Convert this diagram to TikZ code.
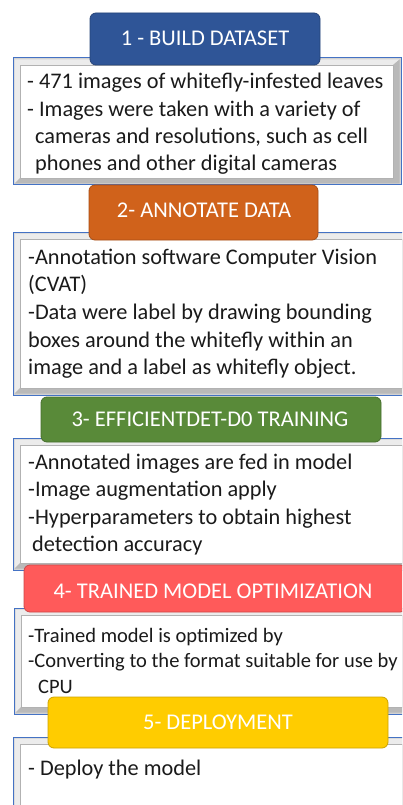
\documentclass[tikz,border=0pt]{standalone}
\usepackage{fontspec}
\setmainfont{Carlito}
\definecolor{hblue}{HTML}{2F5597}
\definecolor{horange}{HTML}{D0621B}
\definecolor{hgreen}{HTML}{598A39}
\definecolor{hred}{HTML}{FF5A5A}
\definecolor{hyellow}{HTML}{FFCC00}
\definecolor{bblue}{HTML}{4472C4}
\definecolor{txt}{HTML}{1A1A1A}
\tikzset{
  hdr/.style={draw=#1!80!black, fill=#1, rounded corners=6pt, line width=0.8pt},
  hdrtext/.style={text=white, font=\fontsize{22.5}{24}\selectfont, inner sep=0pt},
  bodytext/.style={text=txt, inner sep=0pt, anchor=base west},
}
\newcommand{\bodybox}[4]{%
  \fill[gray!35] (#1,#2) rectangle (#3,#4);
  \draw[bblue, line width=1pt] (#1,#2) rectangle (#3,#4);
  \fill[gray!15] (#1+1.5,#2+1.5) -- (#3-1.5,#2+1.5) -- (#3-8,#2+7) -- (#1+7,#2+7) -- (#1+7,#4-7) -- (#1+1.5,#4-1.5) -- cycle;
  \fill[gray!55] (#3-1.5,#2+1.5) -- (#3-1.5,#4-1.5) -- (#1+1.5,#4-1.5) -- (#1+7,#4-7) -- (#3-8,#4-7) -- (#3-8,#2+7) -- cycle;
  \draw[gray!60, fill=white, line width=0.6pt] (#1+7,#2+7) rectangle (#3-8,#4-7);
}
\begin{document}
\begin{tikzpicture}[x=1pt,y=-1pt]
\useasboundingbox (0,0) rectangle (402,805);
\fill[white] (0,0) rectangle (402,805);
\begin{scope}
\clip (0,0) rectangle (402,805);
% ---- 1
\bodybox{13}{58}{401}{185}
\node[bodytext] (t1) at (27,89) {\parbox[t]{390pt}{\fontsize{22.3}{27.3}\selectfont
- 471 images of whitefly-infested leaves\\
- Images were taken with a variety of\\
\hspace*{3pt} cameras and resolutions, such as cell\\
\hspace*{3pt} phones and other digital cameras}};
\draw[hdr=hblue] (90,13) rectangle (320,65);
\node[hdrtext] (h1) at (205,38) {1 - BUILD DATASET};
% ---- 2
\bodybox{13}{232}{410}{395}
\node[bodytext] (t2) at (28,264) {\parbox[t]{390pt}{\fontsize{22.3}{27.7}\selectfont
-Annotation software Computer Vision\\
(CVAT)\\
-Data were label by drawing bounding\\
boxes around the whitefly within an\\
image and a label as whitefly object.}};
\draw[hdr=horange] (89,185) rectangle (318,240);
\node[hdrtext] (h2) at (204,210) {2- ANNOTATE DATA};
% ---- 3
\bodybox{13}{438}{410}{570}
\node[bodytext] (t3) at (28,469) {\parbox[t]{390pt}{\fontsize{22.3}{27.6}\selectfont
-Annotated images are fed in model\\
-Image augmentation apply\\
-Hyperparameters to obtain highest\\
\hspace*{4pt}detection accuracy}};
\draw[hdr=hgreen] (41,397) rectangle (381,442);
\node[hdrtext] (h3) at (210,419) {3- EFFICIENTDET-D0 TRAINING};
% ---- 4
\bodybox{14}{608}{410}{714}
\node[bodytext] (t4) at (28,642) {\parbox[t]{390pt}{\fontsize{20.5}{25.5}\selectfont
-Trained model is optimized by\\
-Converting to the format suitable for use by\\
\hspace*{10pt}CPU}};
\draw[hdr=hred] (24,565) rectangle (406,612);
\node[hdrtext] (h4) at (213,591) {4- TRAINED MODEL OPTIMIZATION};
% ---- 5
\bodybox{13}{737}{410}{820}
\node[bodytext] (t5) at (28,775) {\fontsize{22.3}{24}\selectfont - Deploy the model};
\draw[hdr=hyellow] (48,697) rectangle (388,748);
\node[hdrtext] (h5) at (218,722) {5- DEPLOYMENT};
\end{scope}
\end{tikzpicture}
\end{document}
